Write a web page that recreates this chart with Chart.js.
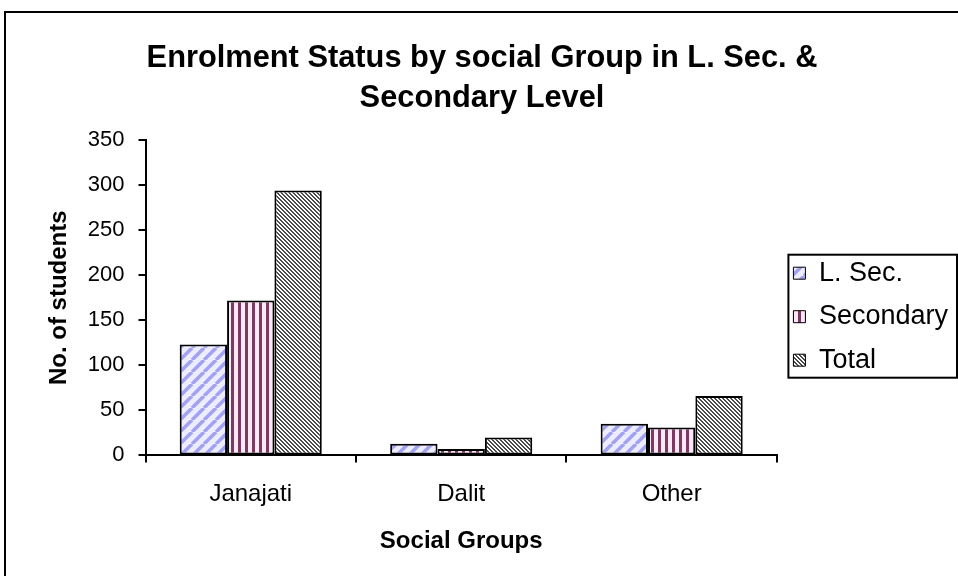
<!DOCTYPE html>
<html>
<head>
<meta charset="utf-8">
<script src="https://cdn.jsdelivr.net/npm/chart.js@4"></script>
<style>
  body { margin: 0; background: #fff; }
  #wrap { position: relative; width: 958px; height: 576px; overflow: hidden; }
  #frame { position: absolute; left: 4px; top: 11px; width: 1000px; height: 1000px;
           border-left: 2px solid #000; border-top: 2px solid #000; pointer-events: none; }
</style>
</head>
<body>
<div id="wrap">
  <canvas id="enrolChart"></canvas>
  <div id="frame"></div>
</div>
<script>
// Enrolment by social group
const groups = ['Janajati', 'Dalit', 'Other'];
const lowerSec = [123, 13, 35];
const secondary = [172, 7, 31];
const total = [294, 20, 66];
const seriesNames = ['L. Sec.', 'Secondary', 'Total'];

const FONT = '"Liberation Sans", Arial, sans-serif';

const canvas = document.getElementById('enrolChart');
const ctx = canvas.getContext('2d');

// small tiles used as bar fills
function tilePattern(w, h, paint) {
  const tile = document.createElement('canvas');
  tile.width = w;
  tile.height = h;
  paint(tile.getContext('2d'), w, h);
  return ctx.createPattern(tile, 'repeat');
}

const lowerSecFill = tilePattern(12, 12, (g, w, h) => {
  g.fillStyle = '#ededff';
  g.fillRect(0, 0, w, h);
  g.strokeStyle = '#a2a2f2';
  g.lineWidth = 3.5;
  [-w, 0, w].forEach(ox => {
    g.beginPath();
    g.moveTo(ox, h);
    g.lineTo(ox + w, 0);
    g.stroke();
  });
});

const secondaryFill = tilePattern(7, 7, (g, w, h) => {
  g.fillStyle = '#fbe8f6';
  g.fillRect(0, 0, w, h);
  g.fillStyle = '#7b3a5f';
  g.fillRect(0, 0, 3, h);
});

const totalFill = tilePattern(4, 4, (g, w, h) => {
  g.fillStyle = '#ffffff';
  g.fillRect(0, 0, w, h);
  g.fillStyle = '#4a4a4a';
  for (let i = 0; i < 4; i++) {
    g.fillRect(i, i, 1, 1);
    g.fillRect((i + 1) % 4, i, 1, 1);
  }
});

// outline round the legend entries
const legendFrame = {
  id: 'legendFrame',
  afterDraw(chart) {
    const boxes = chart.legend.legendHitBoxes;
    if (!boxes || !boxes.length) return;
    const left = Math.min(...boxes.map(b => b.left)) - 5;
    const top = Math.min(...boxes.map(b => b.top)) - 5;
    const bottom = Math.max(...boxes.map(b => b.top + b.height)) + 4;
    const right = chart.width - 1;
    const c = chart.ctx;
    c.save();
    c.strokeStyle = '#000';
    c.lineWidth = 2;
    c.strokeRect(left, top, right - left, bottom - top);
    c.restore();
  }
};

new Chart(canvas, {
  type: 'bar',
  data: {
    labels: groups,
    datasets: [
      { label: seriesNames[0], data: lowerSec, backgroundColor: lowerSecFill },
      { label: seriesNames[1], data: secondary, backgroundColor: secondaryFill },
      { label: seriesNames[2], data: total, backgroundColor: totalFill }
    ]
  },
  options: {
    responsive: true,
    maintainAspectRatio: false,
    animation: false,
    layout: { padding: { left: 6, right: 0, top: 0, bottom: 20 } },
    datasets: {
      bar: {
        borderColor: '#000',
        borderWidth: 2,
        borderSkipped: false,
        categoryPercentage: 0.675,
        barPercentage: 1.0
      }
    },
    plugins: {
      title: {
        display: true,
        text: ['Enrolment Status by social Group in L. Sec. &', 'Secondary Level'],
        color: '#000',
        font: { family: FONT, size: 30.8, weight: 'bold', lineHeight: 1.3 },
        padding: { top: 38, bottom: 22 }
      },
      legend: {
        position: 'right',
        title: { display: true, text: ' ', font: { size: 2 }, padding: 37.5 },
        labels: {
          color: '#000',
          font: { family: FONT, size: 27 },
          boxWidth: 12,
          boxHeight: 12,
          padding: 16.5,
          generateLabels: chart => Chart.defaults.plugins.legend.labels
            .generateLabels(chart).map(item => ({ ...item, lineWidth: 1 }))
        }
      },
      tooltip: { enabled: false }
    },
    scales: {
      x: {
        grid: { display: true, drawOnChartArea: false, drawTicks: true, tickLength: 7, color: '#000', lineWidth: 2 },
        border: { color: '#000', width: 2 },
        ticks: { color: '#000', font: { family: FONT, size: 24 }, padding: 18 },
        title: {
          display: true,
          text: 'Social Groups',
          color: '#000',
          font: { family: FONT, size: 24, weight: 'bold' },
          padding: { top: 0, bottom: 0 }
        }
      },
      y: {
        min: 0,
        max: 350,
        ticks: { stepSize: 50, color: '#000', font: { family: FONT, size: 22 }, padding: 14 },
        grid: { display: true, drawOnChartArea: false, drawTicks: true, tickLength: 7, color: '#000', lineWidth: 2 },
        border: { color: '#000', width: 2 },
        title: {
          display: true,
          text: 'No. of students',
          color: '#000',
          font: { family: FONT, size: 24, weight: 'bold' },
          padding: { top: 39, bottom: 0 }
        }
      }
    }
  },
  plugins: [legendFrame]
});
</script>
</body>
</html>
